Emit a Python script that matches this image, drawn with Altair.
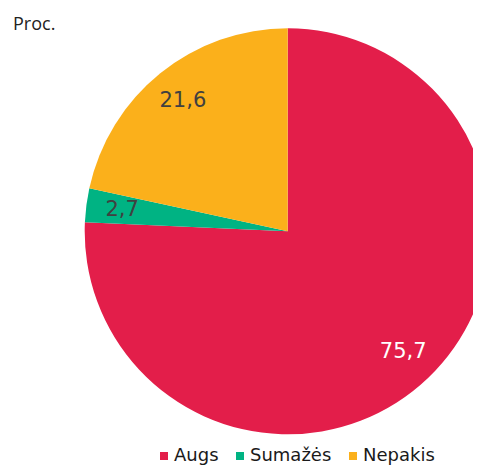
import altair as alt
import pandas as pd

categories = ["Augs", "Sumažės", "Nepakis"]
values = [75.7, 2.7, 21.6]
colors = ["#e31e4a", "#00b383", "#fbb01b"]
label_colors = ["#ffffff", "#404040", "#404040"]

df = pd.DataFrame({
    "cat": categories,
    "val": values,
    "idx": list(range(len(categories))),
    "label": [f"{v:.1f}".replace(".", ",") for v in values],
    "lcol": label_colors,
})

CX, CY, R = 279.7, 223.3, 203

base = alt.Chart(df).encode(
    theta=alt.Theta("val:Q", stack=True),
    order=alt.Order("idx:Q"),
)

arcs = base.mark_arc(radius=R).encode(
    x=alt.value(CX),
    y=alt.value(CY),
    color=alt.Color(
        "cat:N",
        scale=alt.Scale(domain=categories, range=colors),
        sort=categories,
        legend=alt.Legend(
            title=None,
            orient="none",
            direction="horizontal",
            legendX=147,
            legendY=439,
            padding=0,
            offset=0,
            symbolType="square",
            symbolSize=64,
            symbolStrokeWidth=0,
            labelFont="DejaVu Sans",
            labelFontSize=18,
            labelColor="#1a1a1a",
            labelOffset=1,
            columnPadding=12,
        ),
    ),
)

texts = base.mark_text(radius=167, font="DejaVu Sans", fontSize=21).encode(
    x=alt.value(CX),
    y=alt.value(CY),
    text="label:N",
    color=alt.Color("lcol:N", scale=None),
)

title_df = pd.DataFrame({"t": ["Proc."]})
title = alt.Chart(title_df).mark_text(
    font="Open Sans", fontSize=18, align="left", baseline="alphabetic", color="#222222"
).encode(x=alt.value(5), y=alt.value(22), text="t:N")

chart = alt.layer(arcs, texts, title).properties(
    width=465,
    height=457,
    padding=0,
    autosize=alt.AutoSizeParams(type="none"),
).configure_view(stroke=None)

chart.save("out.html", embed_options={"renderer": "svg", "actions": False})
